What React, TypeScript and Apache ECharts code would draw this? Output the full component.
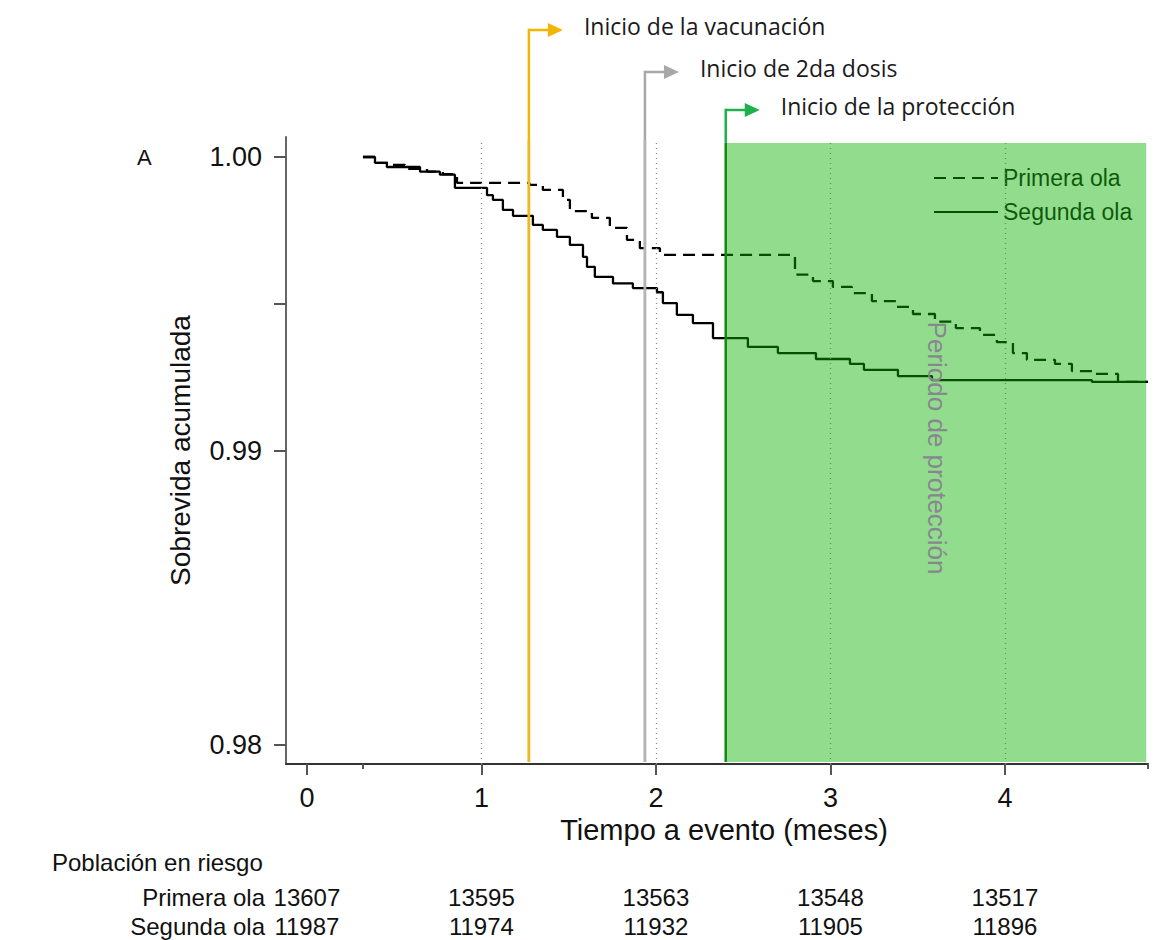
import React, { useEffect, useRef } from "react";
import * as echarts from "echarts";

// ---- data ----
const timePrimera = [0.321, 0.401, 0.476, 0.562, 0.688, 0.779, 0.86, 1.275, 1.352, 1.467, 1.507, 1.633, 1.736, 1.834, 1.908, 2.023, 2.797, 2.9, 3.014, 3.123, 3.238, 3.381, 3.473, 3.599, 3.719, 3.857, 3.954, 4.046, 4.126, 4.287, 4.384, 4.521, 4.648, 4.819];
const survPrimera = [1.0, 0.9998, 0.99973, 0.9996, 0.9995, 0.99942, 0.99912, 0.99905, 0.99888, 0.99854, 0.99816, 0.99793, 0.99759, 0.99718, 0.9969, 0.99667, 0.996, 0.99578, 0.99558, 0.99537, 0.9951, 0.9949, 0.99466, 0.9944, 0.99418, 0.99395, 0.9937, 0.99333, 0.9931, 0.99296, 0.99272, 0.99262, 0.99235, 0.99235];
const timeSegunda = [0.321, 0.39, 0.458, 0.648, 0.762, 0.848, 1.032, 1.066, 1.123, 1.181, 1.295, 1.352, 1.433, 1.507, 1.582, 1.605, 1.65, 1.754, 1.868, 2.006, 2.04, 2.12, 2.212, 2.327, 2.527, 2.699, 2.917, 3.112, 3.192, 3.387, 3.582, 4.499, 4.819];
const survSegunda = [1.0, 0.9998, 0.99966, 0.9995, 0.9994, 0.99895, 0.9987, 0.99854, 0.9982, 0.998, 0.99769, 0.99752, 0.99728, 0.99701, 0.9966, 0.99626, 0.99592, 0.9957, 0.99554, 0.9954, 0.99503, 0.99463, 0.99435, 0.99384, 0.99354, 0.99333, 0.99313, 0.99296, 0.99276, 0.99255, 0.99241, 0.99235, 0.99235];

const seriesNames = ["Primera ola", "Segunda ola"];
const xTickValues = [0, 1, 2, 3, 4];
const xMinorTickValues = [0.321, 4.819];
const yLabelValues = [0.98, 0.99, 1.0];
const yTickValues = [0.98, 0.99, 0.995, 1.0];
const gridLineValues = [1, 2, 3, 4];

const eventTimes = [1.272, 1.937, 2.4];
const eventLabels = ["Inicio de la vacunación", "Inicio de 2da dosis", "Inicio de la protección"];
const protStart = 2.4;
const protEnd = 4.81;
const protTop = 1.00048;
const protLabel = "Periodo de protección";
const protLabelAt = [3.61, 0.9901];

const riskTimes = [0, 1, 2, 3, 4];
const riskPrimera = [13607, 13595, 13563, 13548, 13517];
const riskSegunda = [11987, 11974, 11932, 11905, 11896];

const X_MIN = -0.12;
const X_MAX = 4.82;
const Y_MIN = 0.979354;
const Y_MAX = 1.00068;

// ---- styles ----
const AX_FONT = "'Liberation Sans', Arial, sans-serif";
const ANN_FONT = "'Open Sans', 'Noto Sans', sans-serif";
const eventColors = ["#F2B600", "#A8A8A8", "#1DB04B"];
const eventLineColors = ["#E9B928", "#B4B4B4", "#138A13"];
const arrowY = [30, 72, 110];

export default function App() {
  const ref = useRef<HTMLDivElement>(null);
  useEffect(() => {
    if (!ref.current) return;
    const chart = echarts.init(ref.current, undefined, { renderer: "svg" });
    const primData = timePrimera.map((t, i) => [t, survPrimera[i]]);
    const segData = timeSegunda.map((t, i) => [t, survSegunda[i]]);

    chart.setOption({
      animation: false,
      backgroundColor: "#ffffff",
      grid: { left: 286, right: 8, top: 137, bottom: 176, containLabel: false },
      legend: {
        data: seriesNames,
        orient: "vertical",
        left: 933,
        top: 165,
        itemWidth: 64,
        itemHeight: 14,
        itemGap: 8,
        padding: 0,
        itemStyle: { opacity: 0 },
        textStyle: { fontSize: 23, fontFamily: AX_FONT, color: "#111", lineHeight: 26 },
      },
      xAxis: [
        {
          type: "value",
          min: X_MIN,
          max: X_MAX,
          name: "Tiempo a evento (meses)",
          nameLocation: "middle",
          nameGap: 50,
          nameTextStyle: { fontSize: 29, fontFamily: AX_FONT, color: "#111", padding: [0, 0, 0, 14] },
          axisLine: { show: true, onZero: false, lineStyle: { color: "#333", width: 2 } },
          axisTick: { show: true, length: 11, customValues: xTickValues, lineStyle: { color: "#555", width: 2 } },
          axisLabel: { customValues: xTickValues, margin: 20, fontSize: 27, fontFamily: AX_FONT, color: "#111" },
          splitLine: { show: false },
        },
        {
          type: "value",
          min: X_MIN,
          max: X_MAX,
          position: "bottom",
          axisLine: { show: false },
          axisTick: { show: true, length: 5, customValues: xMinorTickValues, lineStyle: { color: "#555", width: 2 } },
          axisLabel: { show: false },
          splitLine: { show: false },
        },
      ],
      yAxis: {
        type: "value",
        min: Y_MIN,
        max: Y_MAX,
        name: "Sobrevida acumulada",
        nameLocation: "middle",
        nameGap: 92,
        nameTextStyle: { fontSize: 28, fontFamily: AX_FONT, color: "#111" },
        axisLine: { show: true, onZero: false, lineStyle: { color: "#666", width: 2 } },
        axisTick: { show: true, length: 12, customValues: yTickValues, lineStyle: { color: "#555", width: 2 } },
        axisLabel: {
          customValues: yLabelValues,
          margin: 24,
          fontSize: 27,
          fontFamily: AX_FONT,
          color: "#111",
          formatter: (v: number) => v.toFixed(2),
        },
        splitLine: { show: false },
      },
      series: [
        {
          name: seriesNames[0],
          type: "line",
          step: "end",
          data: primData,
          symbol: "none",
          z: 3,
          lineStyle: { color: "#000", width: 2.3, type: [12, 7] },
          itemStyle: { color: "#000" },
          markLine: {
            silent: true,
            symbol: "none",
            label: { show: false },
            lineStyle: { color: "#8a8a8a", type: [1, 4], width: 1.3 },
            data: gridLineValues.map((v) => [
              { coord: [v, Y_MIN] },
              { coord: [v, protTop] },
            ]),
          },
        },
        {
          name: seriesNames[1],
          type: "line",
          step: "end",
          data: segData,
          symbol: "none",
          z: 3,
          lineStyle: { color: "#000", width: 2.3, type: "solid" },
          itemStyle: { color: "#000" },
        },
      ],
    });

    const p = (x: number, y: number) =>
      chart.convertToPixel({ xAxisIndex: 0, yAxisIndex: 0 }, [x, y]) as number[];

    const graphics: any[] = [];
    const [rx0, ry0] = p(protStart, protTop);
    const [rx1, ry1] = p(protEnd, Y_MIN);
    const rectBottom = ry1 - 2;

    // event lines with arrows
    eventTimes.forEach((t, i) => {
      const [ex] = p(t, Y_MIN);
      const ay = arrowY[i];
      const col = eventColors[i];
      const isProt = i === 2;
      graphics.push({
        type: "line",
        z: 50,
        shape: { x1: ex, y1: ay - 1.25, x2: ex, y2: isProt ? ry0 : rectBottom },
        style: { stroke: col, lineWidth: 2.5 },
      });
      if (!isProt) {
        graphics.push({
          type: "line",
          z: 50,
          shape: { x1: ex, y1: 140, x2: ex, y2: rectBottom },
          style: { stroke: eventLineColors[i], lineWidth: 2.5 },
        });
      } else {
        graphics.push({
          type: "line",
          z: 110,
          shape: { x1: ex, y1: ry0, x2: ex, y2: rectBottom },
          style: { stroke: eventLineColors[i], lineWidth: 2.5 },
        });
      }
      graphics.push({
        type: "line",
        z: 50,
        shape: { x1: ex, y1: ay, x2: ex + 22, y2: ay },
        style: { stroke: col, lineWidth: 2.5 },
      });
      graphics.push({
        type: "polygon",
        z: 50,
        shape: { points: [[ex + 19, ay - 7], [ex + 34, ay], [ex + 19, ay + 7]] },
        style: { fill: col },
      });
      graphics.push({
        type: "text",
        z: 50,
        x: ex + 55,
        y: ay - 4,
        style: {
          text: eventLabels[i],
          font: `23px ${ANN_FONT}`,
          fill: "#1a1a1a",
          textAlign: "left",
          textVerticalAlign: "middle",
        },
      });
    });

    // protection overlay
    graphics.push({
      type: "rect",
      z: 100,
      silent: true,
      shape: { x: rx0, y: ry0, width: rx1 - rx0, height: rectBottom - ry0 },
      style: { fill: "rgba(13,178,4,0.45)" },
    });
    const [plx, ply] = p(protLabelAt[0], protLabelAt[1]);
    graphics.push({
      type: "text",
      z: 120,
      x: plx,
      y: ply,
      rotation: -Math.PI / 2,
      style: {
        text: protLabel,
        font: `26px ${AX_FONT}`,
        fill: "#87878f",
        textAlign: "center",
        textVerticalAlign: "middle",
      },
    });

    // panel letter
    graphics.push({
      type: "text",
      x: 137,
      y: 157,
      style: { text: "A", font: `22px ${AX_FONT}`, fill: "#111", textAlign: "left", textVerticalAlign: "middle" },
    });

    // risk table
    graphics.push({
      type: "text",
      x: 52,
      y: 862,
      style: { text: "Población en riesgo", font: `24px ${AX_FONT}`, fill: "#111", textAlign: "left", textVerticalAlign: "middle" },
    });
    const rows = [
      { label: seriesNames[0], vals: riskPrimera, y: 897 },
      { label: seriesNames[1], vals: riskSegunda, y: 926 },
    ];
    rows.forEach((r) => {
      graphics.push({
        type: "text",
        x: 265,
        y: r.y,
        style: { text: r.label, font: `24px ${AX_FONT}`, fill: "#111", textAlign: "right", textVerticalAlign: "middle" },
      });
      r.vals.forEach((v, j) => {
        const [tx] = p(riskTimes[j], Y_MIN);
        graphics.push({
          type: "text",
          x: tx,
          y: r.y,
          style: { text: String(v), font: `24px ${AX_FONT}`, fill: "#111", textAlign: "center", textVerticalAlign: "middle" },
        });
      });
    });

    chart.setOption({ graphic: graphics });

    return () => chart.dispose();
  }, []);

  return (
    <div
      ref={ref}
      style={{ position: "absolute", left: 0, top: 0, width: 1156, height: 940, background: "#fff" }}
    />
  );
}
